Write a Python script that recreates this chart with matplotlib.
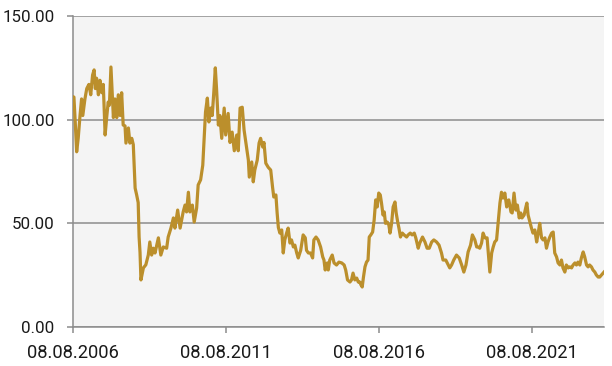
import matplotlib
matplotlib.use("Agg")
import matplotlib.pyplot as plt
import pandas as pd

# decimal years
years = [
    2006.60, 2006.62, 2006.66, 2006.71, 2006.76, 2006.82, 2006.87, 2006.91, 2006.98, 2007.04,
    2007.11, 2007.17, 2007.23, 2007.28, 2007.32, 2007.36, 2007.42, 2007.47, 2007.53, 2007.58,
    2007.64, 2007.69, 2007.74, 2007.78, 2007.83, 2007.87, 2007.91, 2007.96, 2008.02, 2008.07,
    2008.13, 2008.18, 2008.23, 2008.29, 2008.32, 2008.40, 2008.45, 2008.51, 2008.56, 2008.62,
    2008.67, 2008.72, 2008.75, 2008.78, 2008.81, 2008.89, 2008.97, 2009.05, 2009.10, 2009.16,
    2009.21, 2009.27, 2009.38, 2009.46, 2009.54, 2009.65, 2009.70, 2009.79, 2009.87, 2009.92,
    2010.01, 2010.09, 2010.19, 2010.25, 2010.30, 2010.36, 2010.41, 2010.49, 2010.55, 2010.63,
    2010.68, 2010.76, 2010.83, 2010.88, 2010.92, 2010.98, 2011.03, 2011.09, 2011.14, 2011.19,
    2011.24, 2011.28, 2011.34, 2011.39, 2011.45, 2011.53, 2011.58, 2011.66, 2011.72, 2011.79,
    2011.86, 2011.94, 2011.99, 2012.05, 2012.12, 2012.18, 2012.24, 2012.32, 2012.35, 2012.43,
    2012.48, 2012.53, 2012.61, 2012.67, 2012.72, 2012.79, 2012.83, 2012.89, 2012.97, 2013.05,
    2013.11, 2013.15, 2013.22, 2013.26, 2013.30, 2013.35, 2013.41, 2013.46, 2013.51, 2013.57,
    2013.62, 2013.68, 2013.73, 2013.79, 2013.84, 2013.90, 2013.95, 2014.03, 2014.11, 2014.18,
    2014.22, 2014.28, 2014.35, 2014.42, 2014.46, 2014.53, 2014.60, 2014.68, 2014.75, 2014.79,
    2014.83, 2014.90, 2014.93, 2014.98, 2015.06, 2015.12, 2015.20, 2015.28, 2015.37, 2015.45,
    2015.50, 2015.56, 2015.64, 2015.69, 2015.74, 2015.80, 2015.86, 2015.91, 2015.96, 2016.00,
    2016.04, 2016.08, 2016.13, 2016.18, 2016.23, 2016.27, 2016.32, 2016.38, 2016.43, 2016.48,
    2016.53, 2016.58, 2016.63, 2016.67, 2016.72, 2016.76, 2016.80, 2016.86, 2016.91, 2016.95,
    2017.00, 2017.05, 2017.11, 2017.15, 2017.20, 2017.24, 2017.29, 2017.35, 2017.41, 2017.49,
    2017.54, 2017.61, 2017.67, 2017.74, 2017.79, 2017.87, 2017.92, 2018.01, 2018.09, 2018.16,
    2018.23, 2018.31, 2018.38, 2018.47, 2018.55, 2018.63, 2018.68, 2018.77, 2018.85, 2018.90,
    2018.96, 2019.03, 2019.12, 2019.21, 2019.29, 2019.36, 2019.43, 2019.50, 2019.58, 2019.64,
    2019.72, 2019.78, 2019.83, 2019.88, 2019.94, 2019.99, 2020.05, 2020.12, 2020.17, 2020.21,
    2020.27, 2020.32, 2020.37, 2020.43, 2020.48, 2020.54, 2020.59, 2020.64, 2020.70, 2020.76,
    2020.83, 2020.90, 2020.94, 2021.00, 2021.06, 2021.11, 2021.17, 2021.22, 2021.26, 2021.33,
    2021.38, 2021.42, 2021.46, 2021.52, 2021.57, 2021.62, 2021.68, 2021.74, 2021.79, 2021.84,
    2021.90, 2021.95, 2022.01, 2022.06, 2022.11, 2022.17, 2022.23, 2022.28, 2022.33, 2022.39,
    2022.44, 2022.50, 2022.55, 2022.60, 2022.66, 2022.71, 2022.77, 2022.82, 2022.88, 2022.93,
    2022.99, 2023.04, 2023.09, 2023.15, 2023.20, 2023.26, 2023.31, 2023.37, 2023.42, 2023.47,
    2023.53, 2023.58, 2023.64, 2023.69, 2023.75, 2023.80, 2023.86, 2023.91, 2023.94,
]

values = [
    111.0, 110.9, 99.8, 84.5, 91.0, 102.0, 110.0, 102.0, 110.0, 115.0,
    117.0, 112.0, 121.5, 124.0, 115.0, 120.0, 112.0, 119.0, 113.0, 117.0,
    92.6, 101.0, 108.5, 107.0, 125.4, 113.0, 101.0, 110.0, 101.0, 112.0,
    102.0, 113.0, 97.4, 97.0, 88.7, 96.0, 88.7, 91.0, 88.0, 67.0,
    63.7, 60.0, 43.4, 36.0, 22.7, 28.5, 30.0, 34.7, 41.0, 34.7,
    38.0, 35.7, 43.0, 34.7, 38.6, 38.0, 43.4, 47.7, 52.6, 47.7,
    56.4, 47.7, 55.5, 58.8, 55.5, 65.0, 55.5, 58.8, 50.6, 57.4,
    68.5, 71.0, 78.0, 92.6, 103.7, 110.4, 98.9, 105.6, 102.0, 113.0,
    125.0, 115.0, 97.4, 102.0, 91.0, 105.6, 92.6, 103.0, 89.0, 94.0,
    85.0, 92.6, 85.0, 105.6, 106.0, 95.0, 88.7, 80.5, 72.3, 79.6,
    70.0, 75.7, 80.5, 88.7, 91.0, 86.8, 89.0, 79.0, 77.0, 75.7,
    67.5, 62.7, 63.7, 55.0, 48.0, 45.3, 46.8, 35.7, 42.0, 45.3,
    47.7, 40.5, 42.0, 38.6, 39.5, 35.7, 33.3, 37.0, 44.4, 43.0,
    37.0, 35.7, 35.7, 33.3, 42.0, 43.4, 42.0, 38.6, 33.8, 32.3,
    27.5, 30.9, 27.5, 32.3, 34.7, 30.9, 29.9, 31.3, 30.9, 29.9,
    27.5, 22.7, 21.7, 22.7, 26.0, 22.7, 23.6, 21.7, 21.7, 20.3,
    19.3, 24.0, 29.0, 31.3, 32.3, 43.4, 44.4, 45.8, 51.6, 61.3,
    57.9, 64.6, 63.7, 59.8, 54.0, 55.5, 50.0, 50.6, 49.2, 45.3,
    50.0, 57.9, 60.3, 55.0, 50.6, 47.7, 43.4, 45.3, 44.4, 43.4,
    44.4, 45.3, 44.4, 45.3, 43.0, 38.0, 40.5, 43.4, 41.0, 38.0,
    38.0, 41.0, 42.0, 41.0, 39.5, 35.7, 32.3, 32.3, 29.9, 28.5,
    29.9, 32.3, 34.7, 33.3, 29.9, 26.5, 29.9, 36.2, 39.5, 44.4,
    42.0, 38.6, 38.6, 38.0, 40.5, 45.3, 43.0, 43.0, 33.8, 26.5,
    35.7, 38.6, 41.0, 42.0, 50.0, 59.8, 65.0, 62.2, 64.6, 57.9,
    61.3, 55.5, 55.0, 64.6, 56.4, 58.8, 52.6, 55.0, 52.6, 54.0,
    57.4, 59.8, 54.0, 50.6, 47.7, 45.3, 46.8, 41.0, 45.3, 50.0,
    43.0, 42.0, 43.0, 38.0, 41.0, 43.4, 45.3, 45.8, 35.7, 33.8,
    30.9, 29.9, 32.3, 28.5, 26.5, 29.9, 28.5, 29.0, 28.5, 29.9,
    30.9, 29.9, 31.3, 29.9, 33.3, 36.2, 33.8, 29.9, 29.0, 29.9,
    29.0, 27.5, 26.5, 25.1, 24.1, 24.1, 25.1, 26.0, 26.5,
]

start_date = "2006-08-08"
tick_dates = ["2006-08-08", "2011-08-08", "2016-08-08", "2021-08-08"]
tick_labels = ["08.08.2006", "08.08.2011", "08.08.2016", "08.08.2021"]
y_ticks = [0, 50, 100, 150]
y_labels = ["0.00", "50.00", "100.00", "150.00"]

start = pd.Timestamp(start_date)
dates = [start + pd.Timedelta(days=(y - years[0]) * 365.25) for y in years]

plt.rcParams['font.family'] = ['Roboto', 'DejaVu Sans']

fig = plt.figure(figsize=(6.12, 3.66), dpi=100)
ax = fig.add_axes([73.3 / 612, 1 - 327 / 366, (604 - 73.3) / 612, (327 - 16) / 366])
ax.set_facecolor('#f4f4f4')

ax.plot(dates, values, color='#bb8f2c', lw=2.3, solid_joinstyle='round', zorder=3)

ax.set_ylim(0, 150)
ax.set_xlim(dates[0], dates[-1])
ax.set_yticks(y_ticks)
ax.set_yticklabels(y_labels)
ax.set_xticks([pd.Timestamp(d) for d in tick_dates])
ax.set_xticklabels(tick_labels)

ax.grid(axis='y', color='#8c8c8c', lw=1.1, zorder=1)
ax.grid(axis='x', visible=False)
for s in ['top', 'right']:
    ax.spines[s].set_visible(False)
for s in ['left', 'bottom']:
    ax.spines[s].set_color('#8c8c8c')
    ax.spines[s].set_linewidth(1.1)

ax.tick_params(axis='y', length=4.5, width=1.1, color='#8c8c8c', pad=9, labelsize=12.2, labelcolor='#1a1a1a')
ax.tick_params(axis='x', length=4, width=1.1, color='#8c8c8c', pad=8, labelsize=13.2, labelcolor='#1a1a1a')

fig.savefig('out.png', dpi=100, facecolor='white')
